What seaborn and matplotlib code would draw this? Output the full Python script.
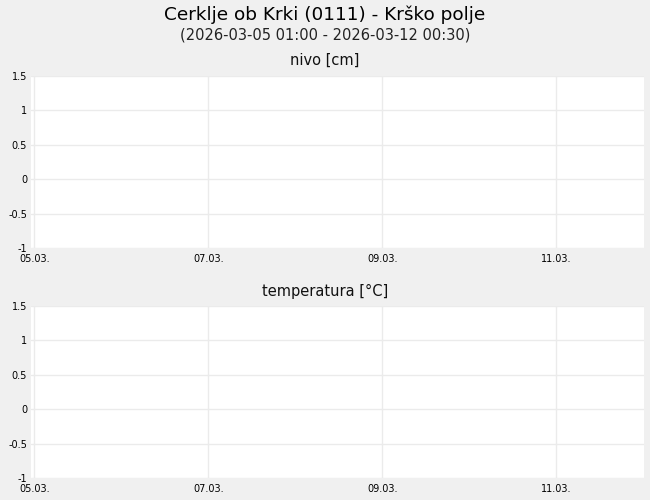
import pandas as pd
import seaborn as sns
import matplotlib.pyplot as plt
import matplotlib.dates as mdates

# Station data (the reference shows no measurements in this period)
title = "Cerklje ob Krki (0111) - Krško polje"
period = "(2026-03-05 01:00 - 2026-03-12 00:30)"
panel_titles = ["nivo [cm]", "temperatura [°C]"]
times = []
nivo_values = []
temp_values = []
y_ticks = [-1, -0.5, 0, 0.5, 1, 1.5]
y_tick_labels = ["-1", "-0.5", "0", "0.5", "1", "1.5"]

sns.set_theme(style="whitegrid")
plt.rcParams['font.family'] = ['DejaVu Sans']

bg = "#f0f0f0"
fig = plt.figure(figsize=(6.5, 5), dpi=100, facecolor=bg)
fig.text(0.5, 0.971, title, ha="center", va="center", fontsize=13.3, color="black")
fig.text(0.5, 0.930, period, ha="center", va="center", fontsize=10.5, color="#222222")

x_start = pd.Timestamp("2026-03-04 23:10")
x_end = pd.Timestamp("2026-03-12 00:15")

axes = [fig.add_axes([0.048, 0.504, 0.943, 0.344]),
        fig.add_axes([0.048, 0.044, 0.943, 0.344])]
title_y = [1 - 60.5 / 500, 1 - 291 / 500]

for ax, name, vals, ty in zip(axes, panel_titles, [nivo_values, temp_values], title_y):
    df = pd.DataFrame({"time": pd.to_datetime(times), "value": pd.Series(vals, dtype=float)})
    if len(df):
        sns.lineplot(data=df, x="time", y="value", ax=ax)
    ax.set_facecolor("white")
    ax.set_xlim(x_start, x_end)
    ax.set_ylim(-1, 1.5)
    ax.set_yticks(y_ticks)
    ax.set_yticklabels(y_tick_labels)
    ax.xaxis.set_major_locator(mdates.DayLocator(interval=2))
    ax.xaxis.set_major_formatter(mdates.DateFormatter("%d.%m."))
    ax.grid(True, color="#ebebeb", linewidth=1)
    for s in ax.spines.values():
        s.set_visible(False)
    ax.tick_params(axis="both", labelsize=7, length=0, pad=3, colors="black")
    ax.tick_params(axis="x", pad=4)
    ax.set_xlabel("")
    ax.set_ylabel("")
    fig.text(0.5, ty, name, ha="center", va="center", fontsize=10.5, color="#111111")

plt.savefig("out.png", dpi=100, facecolor=bg)
